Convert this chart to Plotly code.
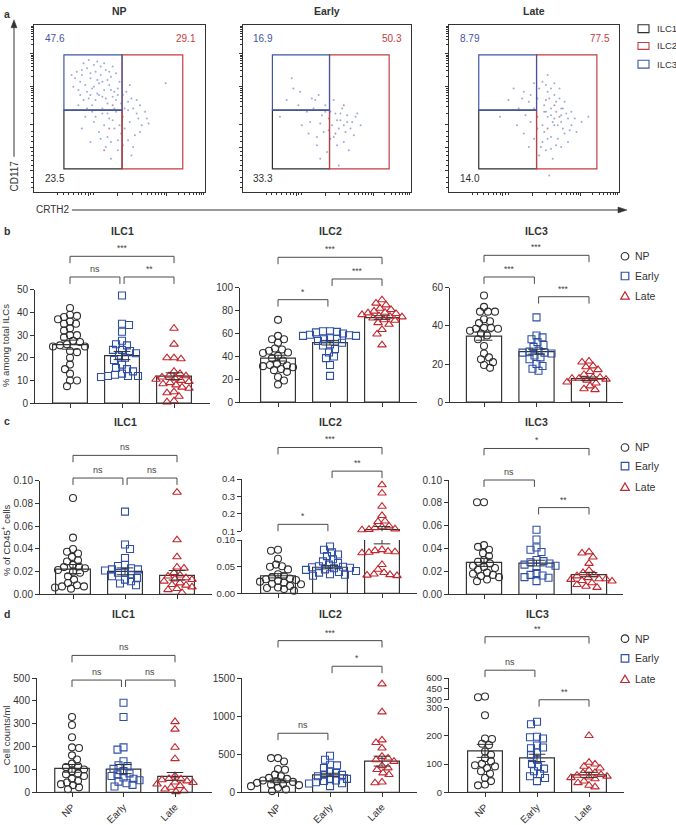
import math
import plotly.graph_objects as go

W, H = 676, 825
FONT = "Arial, 'Liberation Sans', Helvetica, sans-serif"
INK = "#333333"

# ---------------- data ----------------
GROUPS = ["NP", "Early", "Late"]
GROUP_COLORS = ["#2f2f2f", "#2f4fa5", "#c1272f"]
GROUP_SYMBOLS = ["circle-open", "square-open", "triangle-up-open"]
CELL_TYPES = ["ILC1", "ILC2", "ILC3"]

# flow plots (CRTH2 vs CD117), gate percentages: [ILC3 (top-left), ILC2 (right), ILC1 (bottom-left)]
FLOW_SAMPLES = ["NP", "Early", "Late"]
NP_PCT = ["47.6", "29.1", "23.5"]
EARLY_PCT = ["16.9", "50.3", "33.3"]
LATE_PCT = ["8.79", "77.5", "14.0"]

NP_CLOUD = [(0.25, 0.72), (0.28, 0.70), (0.31, 0.74), (0.33, 0.68), (0.36, 0.72), (0.39, 0.70),
            (0.42, 0.73), (0.45, 0.69), (0.30, 0.64), (0.34, 0.62), (0.38, 0.65), (0.41, 0.61),
            (0.44, 0.64), (0.47, 0.60), (0.27, 0.58), (0.32, 0.56), (0.36, 0.55), (0.40, 0.57),
            (0.43, 0.53), (0.48, 0.55), (0.50, 0.66), (0.23, 0.63), (0.26, 0.52), (0.35, 0.76),
            (0.29, 0.77), (0.46, 0.75), (0.52, 0.58), (0.55, 0.54), (0.30, 0.45), (0.35, 0.42),
            (0.40, 0.47), (0.44, 0.44), (0.48, 0.48), (0.52, 0.45), (0.56, 0.42), (0.60, 0.47),
            (0.63, 0.40), (0.38, 0.36), (0.43, 0.33), (0.47, 0.38), (0.51, 0.35), (0.55, 0.31),
            (0.59, 0.34), (0.42, 0.27), (0.49, 0.25), (0.57, 0.22), (0.33, 0.30), (0.28, 0.38),
            (0.77, 0.65), (0.45, 0.30), (0.37, 0.67), (0.24, 0.68), (0.31, 0.60), (0.53, 0.50),
            (0.58, 0.50), (0.66, 0.44), (0.50, 0.40), (0.40, 0.50), (0.34, 0.48), (0.46, 0.57),
            (0.39, 0.75), (0.33, 0.71), (0.43, 0.67), (0.37, 0.59), (0.49, 0.62), (0.62, 0.52),
            (0.22, 0.70), (0.27, 0.66), (0.32, 0.79), (0.37, 0.78), (0.41, 0.77), (0.44, 0.72),
            (0.48, 0.71), (0.26, 0.61), (0.29, 0.55), (0.35, 0.63), (0.38, 0.58), (0.42, 0.56),
            (0.45, 0.61), (0.49, 0.58), (0.51, 0.53), (0.54, 0.60), (0.57, 0.56), (0.60, 0.55),
            (0.61, 0.44), (0.65, 0.48), (0.67, 0.41), (0.53, 0.38), (0.49, 0.31), (0.46, 0.43),
            (0.41, 0.40), (0.36, 0.45), (0.31, 0.50), (0.39, 0.32), (0.52, 0.28), (0.58, 0.27),
            (0.62, 0.36), (0.55, 0.49), (0.47, 0.50), (0.43, 0.47), (0.33, 0.58), (0.28, 0.73),
            (0.40, 0.66), (0.34, 0.52), (0.56, 0.64), (0.45, 0.20)]
NP_CLOUD_RED = [(0.46, 0.52), (0.44, 0.38), (0.41, 0.25)]

EARLY_CLOUD = [(0.30, 0.62), (0.34, 0.60), (0.26, 0.55), (0.45, 0.58), (0.49, 0.52), (0.42, 0.50),
               (0.38, 0.48), (0.47, 0.46), (0.51, 0.44), (0.55, 0.47), (0.58, 0.43), (0.62, 0.46),
               (0.53, 0.40), (0.57, 0.38), (0.61, 0.36), (0.65, 0.42), (0.70, 0.40), (0.48, 0.36),
               (0.44, 0.33), (0.52, 0.32), (0.56, 0.28), (0.60, 0.30), (0.40, 0.42), (0.35, 0.40),
               (0.22, 0.45), (0.50, 0.24), (0.46, 0.20), (0.59, 0.50), (0.66, 0.34), (0.54, 0.55),
               (0.63, 0.25), (0.57, 0.16), (0.43, 0.55), (0.52, 0.48), (0.68, 0.47),
               (0.33, 0.52), (0.41, 0.56), (0.49, 0.48), (0.56, 0.43), (0.60, 0.40), (0.64, 0.38),
               (0.51, 0.37), (0.46, 0.41), (0.54, 0.33), (0.58, 0.47), (0.62, 0.42), (0.67, 0.45),
               (0.44, 0.28), (0.39, 0.35), (0.29, 0.68)]
EARLY_CLOUD_RED = [(0.60, 0.52), (0.55, 0.35)]

LATE_CLOUD = [(0.38, 0.62), (0.44, 0.60), (0.48, 0.58), (0.52, 0.56), (0.55, 0.66), (0.58, 0.60),
              (0.62, 0.58), (0.65, 0.56), (0.68, 0.54), (0.56, 0.52), (0.60, 0.50), (0.63, 0.48),
              (0.66, 0.46), (0.70, 0.44), (0.58, 0.45), (0.61, 0.42), (0.64, 0.40), (0.67, 0.38),
              (0.72, 0.40), (0.75, 0.36), (0.55, 0.40), (0.52, 0.38), (0.48, 0.42), (0.45, 0.46),
              (0.41, 0.50), (0.40, 0.40), (0.44, 0.35), (0.50, 0.32), (0.55, 0.30), (0.60, 0.33),
              (0.63, 0.28), (0.57, 0.25), (0.61, 0.20), (0.53, 0.22), (0.47, 0.27), (0.70, 0.30),
              (0.78, 0.42), (0.82, 0.45), (0.35, 0.55), (0.50, 0.65), (0.58, 0.70), (0.65, 0.62),
              (0.30, 0.45), (0.59, 0.10), (0.56, 0.48), (0.62, 0.44), (0.59, 0.56), (0.66, 0.50),
              (0.53, 0.62), (0.57, 0.64), (0.60, 0.62), (0.63, 0.54), (0.67, 0.50), (0.69, 0.47),
              (0.72, 0.48), (0.74, 0.44), (0.57, 0.48), (0.60, 0.46), (0.62, 0.40), (0.66, 0.42),
              (0.68, 0.35), (0.58, 0.32), (0.64, 0.32), (0.52, 0.45), (0.50, 0.50), (0.47, 0.54),
              (0.43, 0.56), (0.56, 0.36), (0.60, 0.26), (0.66, 0.27), (0.54, 0.27), (0.71, 0.37),
              (0.62, 0.65)]
LATE_CLOUD_RED = [(0.57, 0.55), (0.62, 0.52), (0.65, 0.45), (0.58, 0.38)]

# b: % among total ILCs
B_ILC1_NP = [42, 39, 38.5, 38, 37, 36, 35, 35, 33, 32, 30, 30, 29, 27.5, 27, 26, 25.5, 25, 25, 23, 22.5, 20, 17, 15, 13, 10, 10, 7.5]
B_ILC1_EARLY = [47.5, 35, 34.5, 31.5, 27.5, 26, 25.5, 23.5, 23.5, 23, 22, 21, 20, 19, 17, 15.5, 15, 14, 13, 12.5, 12, 12, 11.5, 12]
B_ILC1_LATE = [33, 26, 20, 20, 19.5, 14, 13, 12, 12, 11.5, 11, 10.5, 10, 9.5, 9, 8.5, 8, 7, 6.5, 5, 4.5, 3, 1, 0.5]
B_ILC1_MEAN = [25.8, 21.0, 11.9]
B_ILC1_SEM = [2.0, 1.8, 1.5]
B_ILC1_SIG = ["***", "ns", "**"]

B_ILC2_NP = [72, 58, 55, 55, 52, 47, 46, 45, 43.5, 43, 40.5, 38.5, 36.5, 33.5, 32.5, 32, 31.5, 30.5, 29, 28, 26.5, 22, 19, 15.5]
B_ILC2_EARLY = [62, 62, 61.5, 61, 60, 59, 58.5, 58, 58, 56.5, 55.5, 55, 53.5, 52, 50.5, 49.5, 46.5, 43.5, 40, 38.5, 32.5, 23]
B_ILC2_LATE = [89.5, 86.5, 85, 82, 81, 79.5, 78.5, 78, 77.5, 76.5, 75.5, 75, 74.5, 73.5, 72, 71.5, 69.5, 68, 63.5, 59.5, 50]
B_ILC2_MEAN = [38.5, 52.0, 74.0]
B_ILC2_SEM = [2.5, 2.0, 1.6]
B_ILC2_SIG = ["***", "*", "***"]

B_ILC3_NP = [56, 50, 47.5, 47.5, 47.5, 43.5, 42.5, 41.5, 39, 39, 38.5, 38.5, 37.5, 36, 35, 33, 29.5, 25.5, 23.5, 22.5, 21, 19.5, 18]
B_ILC3_EARLY = [44.5, 35, 34, 33, 31.5, 30, 29, 27, 26.5, 26, 26, 25.5, 24.5, 23.5, 22.5, 20, 19, 17.5, 16.5]
B_ILC3_LATE = [21.5, 21, 19, 18.5, 17, 16, 14.5, 13, 13, 12.5, 12.5, 12, 11.5, 10.5, 10, 8.5, 7, 6.5]
B_ILC3_MEAN = [34.7, 26.5, 12.3]
B_ILC3_SEM = [2.2, 1.3, 0.9]
B_ILC3_SIG = ["***", "***", "***"]

# c: % of CD45+ cells
C_ILC1_NP = [0.085, 0.050, 0.040, 0.0375, 0.036, 0.033, 0.030, 0.029, 0.026, 0.0245, 0.024, 0.023, 0.0215, 0.020, 0.019, 0.016, 0.013, 0.010, 0.008, 0.007, 0.007, 0.006, 0.005]
C_ILC1_EARLY = [0.073, 0.044, 0.040, 0.032, 0.026, 0.025, 0.023, 0.022, 0.022, 0.021, 0.019, 0.019, 0.017, 0.016, 0.0145, 0.013, 0.0115, 0.0095, 0.008]
C_ILC1_LATE = [0.090, 0.048, 0.033, 0.024, 0.023, 0.019, 0.017, 0.016, 0.0145, 0.0135, 0.013, 0.0115, 0.010, 0.0085, 0.008, 0.0065, 0.005, 0.004, 0.0015]
C_ILC1_MEAN = [0.0223, 0.0203, 0.0168]
C_ILC1_SEM = [0.0040, 0.0030, 0.0042]
C_ILC1_SIG = ["ns", "ns", "ns"]

C_ILC2_NP = [0.082, 0.080, 0.065, 0.054, 0.051, 0.050, 0.045, 0.036, 0.033, 0.030, 0.028, 0.0265, 0.025, 0.0235, 0.022, 0.020, 0.018, 0.017, 0.014, 0.011, 0.010, 0.008, 0.005]
C_ILC2_EARLY = [0.088, 0.082, 0.077, 0.073, 0.070, 0.064, 0.060, 0.057, 0.054, 0.051, 0.050, 0.049, 0.048, 0.047, 0.045, 0.044, 0.042, 0.040, 0.039, 0.036, 0.035, 0.033]
C_ILC2_LATE = [0.366, 0.319, 0.243, 0.19, 0.158, 0.155, 0.13, 0.125, 0.12, 0.113, 0.11, 0.108,
               0.082, 0.080, 0.079, 0.078, 0.077, 0.076, 0.054, 0.045, 0.039, 0.036, 0.035, 0.034, 0.033]
C_ILC2_MEAN = [0.033, 0.049, 0.110]
C_ILC2_SEM = [0.004, 0.003, 0.017]
C_ILC2_SIG = ["***", "*", "**"]

C_ILC3_NP = [0.0805, 0.0805, 0.043, 0.0415, 0.039, 0.036, 0.0335, 0.030, 0.0285, 0.027, 0.025, 0.024, 0.023, 0.0215, 0.019, 0.018, 0.017, 0.016, 0.015, 0.013, 0.0115]
C_ILC3_EARLY = [0.0565, 0.048, 0.041, 0.039, 0.037, 0.030, 0.029, 0.028, 0.027, 0.026, 0.025, 0.024, 0.0185, 0.017, 0.0165, 0.015, 0.0145, 0.0115]
C_ILC3_LATE = [0.037, 0.036, 0.0325, 0.027, 0.021, 0.019, 0.017, 0.016, 0.0145, 0.0135, 0.0135, 0.013, 0.012, 0.0115, 0.010, 0.0085, 0.007, 0.006]
C_ILC3_MEAN = [0.0279, 0.0273, 0.0172]
C_ILC3_SEM = [0.0035, 0.0025, 0.0018]
C_ILC3_SIG = ["*", "ns", "**"]

# d: cell counts/ml
D_ILC1_NP = [330, 295, 241, 197, 194, 162, 144, 126, 115, 111, 100, 93, 83, 79, 72, 60, 50, 43, 36, 32, 22, 14]
D_ILC1_EARLY = [392, 330, 197, 187, 136, 119, 115, 103, 93, 83, 79, 72, 65, 60, 53, 47, 40, 33, 26]
D_ILC1_LATE = [309, 276, 197, 147, 72, 60, 58, 55, 50, 45, 43, 36, 29, 22, 14, 7, 3]
D_ILC1_MEAN = [105, 102, 70]
D_ILC1_SEM = [17, 20, 17]
D_ILC1_SIG = ["ns", "ns", "ns"]

D_ILC2_NP = [450, 450, 406, 307, 298, 233, 212, 190, 177, 156, 145, 138, 125, 110, 104, 95, 82, 60, 39, 17]
D_ILC2_EARLY = [480, 428, 363, 354, 320, 277, 255, 233, 230, 212, 180, 177, 156, 150, 134, 120, 117, 82]
D_ILC2_LATE = [1422, 1055, 687, 653, 580, 471, 450, 428, 406, 350, 320, 298, 255, 233, 134, 125]
D_ILC2_MEAN = [151, 229, 410]
D_ILC2_SEM = [24, 22, 65]
D_ILC2_SIG = ["***", "ns", "*"]

D_ILC3_NP = [345, 335, 273, 191, 189, 172, 168, 145, 133, 121, 110, 101, 96, 92, 86, 75, 67, 51, 40, 28, 25]
D_ILC3_EARLY = [250, 241, 197, 195, 191, 166, 159, 156, 142, 133, 116, 101, 92, 84, 75, 65, 57, 51, 40]
D_ILC3_LATE = [201, 106, 100, 92, 86, 78, 70, 69, 63, 60, 57, 54, 52, 48, 40, 34, 25, 19]
D_ILC3_MEAN = [147, 122, 62]
D_ILC3_SEM = [23, 13, 9]
D_ILC3_SIG = ["**", "ns", "**"]

PAIRS = [(0, 2), (0, 1), (1, 2)]

# ---------------- helpers ----------------
def X(px):
    return px / W


def Y(py):
    return 1 - py / H


fig = go.Figure()
LAY = {}
SHAPES = []
ANNS = []
_n = [0]


def axis_style(**kw):
    d = dict(showgrid=False, zeroline=False, showline=True, linecolor=INK, linewidth=1,
             ticks="outside", ticklen=4, tickwidth=1, tickcolor=INK, fixedrange=True,
             tickfont=dict(family=FONT, size=10, color=INK))
    d.update(kw)
    return d


def add_axes(xd, yd, xa, ya):
    _n[0] += 1
    n = _n[0]
    sx = "" if n == 1 else str(n)
    xa = dict(xa)
    ya = dict(ya)
    xa.update(domain=[X(xd[0]), X(xd[1])], anchor="y" + sx)
    ya.update(domain=[Y(yd[1]), Y(yd[0])], anchor="x" + sx)
    LAY["xaxis" + sx] = xa
    LAY["yaxis" + sx] = ya
    return "x" + sx, "y" + sx


def text(x, y, s, size=10, color=INK, xanchor="center", yanchor="middle", xref="paper", yref="paper",
         angle=0, bold=False):
    ANNS.append(dict(x=x, y=y, xref=xref, yref=yref, text=("<b>%s</b>" % s) if bold else s,
                     showarrow=False, xanchor=xanchor, yanchor=yanchor, textangle=angle,
                     font=dict(family=FONT, size=size, color=color)))


def pline(x0, y0, x1, y1, color=INK, width=1):
    SHAPES.append(dict(type="line", xref="paper", yref="paper", x0=X(x0), y0=Y(y0), x1=X(x1), y1=Y(y1),
                       line=dict(color=color, width=width)))


def ptri(pts, color=INK):
    path = "M " + " L ".join("%f,%f" % (X(a), Y(b)) for a, b in pts) + " Z"
    SHAPES.append(dict(type="path", xref="paper", yref="paper", path=path, fillcolor=color,
                       line=dict(color=color, width=0.5)))


# ---------------- row a: flow plots ----------------
GATE_L, GATE_M, GATE_R = 0.175, 0.515, 0.87
GATE_B, GATE_MID, GATE_T = 0.14, 0.49, 0.82
GATE_COLORS = ["#2e2e2e", "#c43c44", "#3f55a8"]  # ILC1, ILC2, ILC3


def logticks(a, b):
    return [a + (b - a) * math.log10(k) for k in range(2, 10)]


FY_MAJOR = [0.131, 0.269, 0.402, 0.631, 0.827]
FY_MINOR = [0.03, 0.06, 0.09, 0.16, 0.19, 0.22, 0.245, 0.30, 0.33, 0.36] + logticks(0.402, 0.631) + \
    logticks(0.631, 0.827) + logticks(0.827, 1.0)
FX_MAJOR = [0.316, 0.49, 0.775]
FX_MINOR = [0.14, 0.17, 0.20, 0.23, 0.26, 0.28, 0.30, 0.33, 0.35] + logticks(0.49, 0.775) + logticks(0.775, 1.0)

flow_frames = [(34, 205), (243, 411), (449, 619)]
flow_clouds = [(NP_CLOUD, NP_CLOUD_RED), (EARLY_CLOUD, EARLY_CLOUD_RED), (LATE_CLOUD, LATE_CLOUD_RED)]
flow_pcts = [NP_PCT, EARLY_PCT, LATE_PCT]

for k in range(3):
    l, r = flow_frames[k]
    fx = axis_style(range=[0, 1], mirror=True, showticklabels=False, tickmode="array", tickvals=FX_MAJOR,
                    ticklen=3, minor=dict(ticks="outside", ticklen=2, tickcolor=INK, tickmode="array",
                                          tickvals=FX_MINOR))
    fy = axis_style(range=[0, 1], mirror=True, showticklabels=False, tickmode="array", tickvals=FY_MAJOR,
                    ticklen=3, minor=dict(ticks="outside", ticklen=2, tickcolor=INK, tickmode="array",
                                          tickvals=FY_MINOR))
    xr, yr = add_axes((l, r), (19, 189), fx, fy)
    blue, red = flow_clouds[k]
    fig.add_trace(go.Scatter(x=[p[0] for p in blue], y=[p[1] for p in blue], mode="markers",
                             xaxis=xr, yaxis=yr, hoverinfo="skip",
                             marker=dict(size=2, color="#5d6fc6", opacity=0.6)))
    fig.add_trace(go.Scatter(x=[p[0] for p in red], y=[p[1] for p in red], mode="markers",
                             xaxis=xr, yaxis=yr, hoverinfo="skip",
                             marker=dict(size=2, color="#d05058", opacity=0.7)))
    gates = [(GATE_L, GATE_B, GATE_M, GATE_MID), (GATE_M, GATE_B, GATE_R, GATE_T),
             (GATE_L, GATE_MID, GATE_M, GATE_T)]
    for g, (x0, y0, x1, y1) in enumerate(gates):
        SHAPES.append(dict(type="rect", xref=xr, yref=yr, x0=x0, y0=y0, x1=x1, y1=y1,
                           line=dict(color=GATE_COLORS[g], width=1.2)))
    pct = flow_pcts[k]
    text(0.05, 0.915, pct[0], size=10, color=GATE_COLORS[2], xanchor="left", xref=xr, yref=yr)
    text(0.96, 0.915, pct[1], size=10, color=GATE_COLORS[1], xanchor="right", xref=xr, yref=yr)
    text(0.05, 0.08, pct[2], size=10, color=GATE_COLORS[0], xanchor="left", xref=xr, yref=yr)
    text(X((l + r) / 2), Y(5), FLOW_SAMPLES[k], size=10.5, bold=True)

# gate legend
for g, yy in enumerate([(19, 27), (37, 44), (55, 63)]):
    SHAPES.append(dict(type="rect", xref="paper", yref="paper", x0=X(638), x1=X(649), y0=Y(yy[1]), y1=Y(yy[0]),
                       line=dict(color=GATE_COLORS[g], width=1.1)))
    text(X(655), Y((yy[0] + yy[1]) / 2), CELL_TYPES[g], size=9.5, xanchor="left")

# axis arrows
text(X(14), Y(173), "CD117", size=10, angle=-90)
pline(14, 153, 14, 21)
ptri([(11, 22), (17, 22), (14, 14)])
text(X(34), Y(207), "CRTH2", size=10, xanchor="left")
pline(72, 207, 619, 207)
ptri([(618, 204), (618, 210), (627, 207)])

# panel letters
for letter, py in [("a", 8), ("b", 228), ("c", 421), ("d", 617)]:
    text(X(2), Y(py), letter, size=10.5, bold=True, xanchor="left")


# ---------------- bar/dot panels ----------------
def swarm(vals, v2py, px_per_x, d=6.2):
    order = sorted(range(len(vals)), key=lambda i: -vals[i])
    placed = []
    offs = [0.0] * len(vals)
    for cnt, i in enumerate(order):
        py = v2py(vals[i])
        best = None
        for step in range(0, 80):
            if step == 0:
                cands = (0,)
            else:
                cands = (step, -step) if cnt % 2 == 0 else (-step, step)
            for c in cands:
                if all((c - a) ** 2 + (py - b) ** 2 >= d * d for a, b in placed):
                    best = c
                    break
            if best is not None:
                break
        if best is None:
            best = 0
        placed.append((best, py))
        offs[i] = best / px_per_x
    return offs


def bar_panel(cfg, values, means, sems, sigs, title, xlabels):
    left, right, np_px, sp = cfg["x"]
    xrange_ = [(left - np_px) / sp, (right - np_px) / sp]
    segs = cfg["segs"]
    broken = len(segs) > 1

    def seg_of(v):
        for s in segs:
            if s["range"][0] <= v <= s["range"][1]:
                return s
        return segs[-1] if v < segs[-1]["range"][0] else segs[0]

    def v2py(v):
        s = seg_of(v)
        lo, hi = s["range"]
        return s["bottom"] - (v - lo) / (hi - lo) * (s["bottom"] - s["top"])

    offsets = [swarm(values[g], v2py, sp) for g in range(3)]
    refs = []
    for k, s in enumerate(segs):
        is_bottom = (k == len(segs) - 1)
        xa = axis_style(range=xrange_, tickmode="array", tickvals=[0, 1, 2], ticktext=GROUPS,
                        showticklabels=bool(xlabels and is_bottom), tickangle=-45,
                        visible=is_bottom,
                        tickfont=dict(family=FONT, size=10, color=INK))
        ya = axis_style(range=s["range"], tickmode="array", tickvals=s["ticks"], ticktext=s["labels"],
                        tickfont=dict(family=FONT, size=9.5 if broken else 10, color=INK))
        xr, yr = add_axes((left, right), (s["top"], s["bottom"]), xa, ya)
        refs.append((xr, yr))
        fig.add_trace(go.Bar(x=[0, 1, 2], y=means, width=0.67, xaxis=xr, yaxis=yr, hoverinfo="skip",
                             marker=dict(color="white", line=dict(color=INK, width=1.2))))
        for g in range(3):
            xs, ys = [], []
            for v, o in zip(values[g], offsets[g]):
                if seg_of(v) is s:
                    xs.append(g + o)
                    ys.append(v)
            fig.add_trace(go.Scatter(x=xs, y=ys, mode="markers", xaxis=xr, yaxis=yr, cliponaxis=False,
                                     hoverinfo="skip",
                                     marker=dict(symbol=GROUP_SYMBOLS[g], size=7.5 if g == 2 else 7,
                                                 color=GROUP_COLORS[g],
                                                 line=dict(color=GROUP_COLORS[g], width=1.1))))
        ex, ey = [], []
        cw = 0.16
        for g in range(3):
            a, b = means[g] - sems[g], means[g] + sems[g]
            ex += [g, g, None, g - cw, g + cw, None, g - cw, g + cw, None]
            ey += [a, b, None, b, b, None, a, a, None]
        fig.add_trace(go.Scatter(x=ex, y=ey, mode="lines", xaxis=xr, yaxis=yr, hoverinfo="skip",
                                 line=dict(color=INK, width=1)))
    # brackets
    xr0 = refs[0][0]
    leg = 7
    for (i, j), lab, ypx in zip(PAIRS, sigs, cfg["brackets"]):
        x1 = i + (0.04 if (j - i == 1 and i == 1) else 0)
        x2 = j - (0.04 if (j - i == 1 and j == 1) else 0)
        yt, yb = Y(ypx), Y(ypx + leg)
        SHAPES.append(dict(type="path", xref=xr0, yref="paper",
                           path="M %f,%f L %f,%f L %f,%f L %f,%f" % (x1, yb, x1, yt, x2, yt, x2, yb),
                           line=dict(color="#4a4a4a", width=1)))
        text((x1 + x2) / 2, Y(ypx - 1), lab, size=9 if lab == "ns" else 8.5, xref=xr0, yanchor="bottom",
             color="#444444")
    text(1, Y(cfg["title_y"]), title, size=10.5, bold=True, xref=xr0)


def lin(a, b, s):
    out = []
    v = a
    while v <= b + 1e-9:
        out.append(round(v, 6))
        v += s
    return out


PANELS = {
    "b1": dict(x=(35, 210, 70, 52), title_y=228, brackets=[254, 275, 275],
               segs=[dict(top=288, bottom=403, range=[0, 50], ticks=lin(0, 50, 10), labels=None)]),
    "b2": dict(x=(240, 417, 278, 52), title_y=228, brackets=[255, 298, 277],
               segs=[dict(top=286, bottom=402, range=[0, 100], ticks=lin(0, 100, 20), labels=None)]),
    "b3": dict(x=(450, 623, 484, 52.5), title_y=228, brackets=[253, 275, 295],
               segs=[dict(top=286, bottom=402, range=[0, 60], ticks=lin(0, 60, 20), labels=None)]),
    "c1": dict(x=(40, 212, 73, 52), title_y=422, brackets=[456, 479, 479],
               segs=[dict(top=482, bottom=597, range=[0, 0.1], ticks=lin(0, 0.1, 0.02),
                          labels=["0.00", "0.02", "0.04", "0.06", "0.08", "0.10"])]),
    "c2": dict(x=(242, 417, 278, 52), title_y=422, brackets=[448, 526, 472],
               segs=[dict(top=480, bottom=533, range=[0.1, 0.4], ticks=[0.1, 0.2, 0.3, 0.4],
                          labels=["0.1", "0.2", "0.3", "0.4"]),
                     dict(top=542, bottom=596, range=[0, 0.1], ticks=[0, 0.05, 0.1],
                          labels=["0.00", "0.05", "0.10"])]),
    "c3": dict(x=(449, 623, 484, 52.5), title_y=422, brackets=[449, 481, 509],
               segs=[dict(top=481, bottom=597, range=[0, 0.1], ticks=lin(0, 0.1, 0.02),
                          labels=["0.00", "0.02", "0.04", "0.06", "0.08", "0.10"])]),
    "d1": dict(x=(37, 212, 72, 51.5), title_y=617, brackets=[659, 684, 684],
               segs=[dict(top=682, bottom=798, range=[0, 500], ticks=lin(0, 500, 100), labels=None)]),
    "d2": dict(x=(242, 417, 278, 52), title_y=617, brackets=[644, 738, 670],
               segs=[dict(top=682, bottom=798, range=[0, 1500], ticks=[0, 500, 1000, 1500], labels=None)]),
    "d3": dict(x=(449, 624, 485, 52), title_y=617, brackets=[640, 674, 704],
               segs=[dict(top=682, bottom=704, range=[300, 600], ticks=[300, 450, 600], labels=None),
                     dict(top=712, bottom=798, range=[0, 300], ticks=[0, 100, 200, 300], labels=None)]),
}
for p in PANELS.values():
    for s in p["segs"]:
        if s["labels"] is None:
            s["labels"] = [str(int(t)) for t in s["ticks"]]

bar_panel(PANELS["b1"], [B_ILC1_NP, B_ILC1_EARLY, B_ILC1_LATE], B_ILC1_MEAN, B_ILC1_SEM, B_ILC1_SIG, "ILC1", False)
bar_panel(PANELS["b2"], [B_ILC2_NP, B_ILC2_EARLY, B_ILC2_LATE], B_ILC2_MEAN, B_ILC2_SEM, B_ILC2_SIG, "ILC2", False)
bar_panel(PANELS["b3"], [B_ILC3_NP, B_ILC3_EARLY, B_ILC3_LATE], B_ILC3_MEAN, B_ILC3_SEM, B_ILC3_SIG, "ILC3", False)
bar_panel(PANELS["c1"], [C_ILC1_NP, C_ILC1_EARLY, C_ILC1_LATE], C_ILC1_MEAN, C_ILC1_SEM, C_ILC1_SIG, "ILC1", False)
bar_panel(PANELS["c2"], [C_ILC2_NP, C_ILC2_EARLY, C_ILC2_LATE], C_ILC2_MEAN, C_ILC2_SEM, C_ILC2_SIG, "ILC2", False)
bar_panel(PANELS["c3"], [C_ILC3_NP, C_ILC3_EARLY, C_ILC3_LATE], C_ILC3_MEAN, C_ILC3_SEM, C_ILC3_SIG, "ILC3", False)
bar_panel(PANELS["d1"], [D_ILC1_NP, D_ILC1_EARLY, D_ILC1_LATE], D_ILC1_MEAN, D_ILC1_SEM, D_ILC1_SIG, "ILC1", True)
bar_panel(PANELS["d2"], [D_ILC2_NP, D_ILC2_EARLY, D_ILC2_LATE], D_ILC2_MEAN, D_ILC2_SEM, D_ILC2_SIG, "ILC2", True)
bar_panel(PANELS["d3"], [D_ILC3_NP, D_ILC3_EARLY, D_ILC3_LATE], D_ILC3_MEAN, D_ILC3_SEM, D_ILC3_SIG, "ILC3", True)

# y-axis titles
text(X(6), Y(345), "% among total ILCs", size=9.5, angle=-90)
text(X(6), Y(542), "% of CD45<sup>+</sup> cells", size=9.5, angle=-90)
text(X(6), Y(740), "Cell counts/ml", size=9.5, angle=-90)


# group legends
def group_legend(ys):
    cx, r = 625, 3.8
    for g, yy in enumerate(ys):
        if g == 0:
            SHAPES.append(dict(type="circle", xref="paper", yref="paper", x0=X(cx - r), x1=X(cx + r),
                               y0=Y(yy + r), y1=Y(yy - r), line=dict(color=GROUP_COLORS[0], width=1.1)))
        elif g == 1:
            SHAPES.append(dict(type="rect", xref="paper", yref="paper", x0=X(cx - r), x1=X(cx + r),
                               y0=Y(yy + r), y1=Y(yy - r), line=dict(color=GROUP_COLORS[1], width=1.2)))
        else:
            SHAPES.append(dict(type="path", xref="paper", yref="paper",
                               path="M %f,%f L %f,%f L %f,%f Z" % (X(cx - 4.3), Y(yy + 3.5), X(cx + 4.3), Y(yy + 3.5),
                                                                 X(cx), Y(yy - 4)),
                               line=dict(color=GROUP_COLORS[2], width=1.2)))
        text(X(633), Y(yy), GROUPS[g], size=10.5, xanchor="left")


group_legend([254, 274, 294])
group_legend([448, 467, 488])
group_legend([642, 662, 683])

fig.update_layout(width=W, height=H, margin=dict(l=0, r=0, t=0, b=0), showlegend=False,
                  plot_bgcolor="white", paper_bgcolor="white", barmode="overlay",
                  font=dict(family=FONT, size=10, color=INK),
                  shapes=SHAPES, annotations=ANNS, **LAY)
fig.write_html("out.html", config={"displayModeBar": False, "staticPlot": True},
               post_script="document.body.style.margin='0';document.body.style.overflow='hidden';")
